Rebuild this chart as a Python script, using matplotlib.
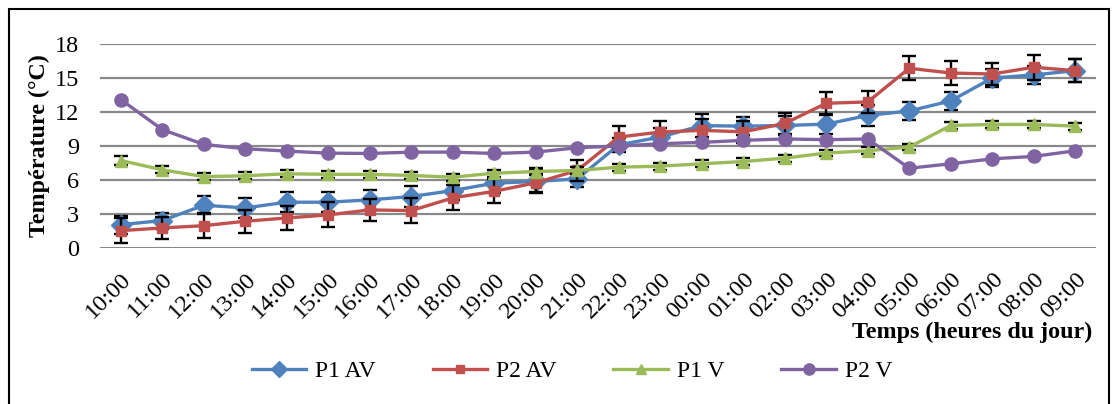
import matplotlib
matplotlib.use("Agg")
import matplotlib.pyplot as plt
from matplotlib.patches import Rectangle
import numpy as np

plt.rcParams['font.family'] = ['Liberation Serif', 'DejaVu Serif']

# hours of the day, 10:00 through 09:00 next morning
hours = ["10:00", "11:00", "12:00", "13:00", "14:00", "15:00", "16:00", "17:00",
         "18:00", "19:00", "20:00", "21:00", "22:00", "23:00", "00:00", "01:00",
         "02:00", "03:00", "04:00", "05:00", "06:00", "07:00", "08:00", "09:00"]

p1_av = [2.06, 2.42, 3.77, 3.54, 4.04, 4.04, 4.25, 4.54, 5.07, 5.72, 5.87, 6.1,
         9.1, 9.79, 10.8, 10.75, 10.81, 10.93, 11.7, 12.09, 12.98, 15.0, 15.27, 15.65]
p1_av_err = [0.8, 0.7, 0.8, 0.9, 0.9, 0.9, 0.9, 0.9, 0.8, 0.9, 1.0, 0.7,
             0.6, 0.8, 1.0, 0.8, 0.8, 0.9, 0.9, 0.8, 0.8, 0.8, 0.8, 1.0]

p2_av = [1.53, 1.77, 1.97, 2.36, 2.65, 2.92, 3.36, 3.3, 4.42, 5.0, 5.75, 6.84,
         9.79, 10.23, 10.38, 10.25, 10.99, 12.77, 12.89, 15.86, 15.44, 15.35, 15.95, 15.65]
p2_av_err = [1.1, 1.0, 1.1, 1.0, 1.06, 1.1, 1.0, 1.1, 1.1, 1.05, 0.8, 0.9,
             1.0, 1.0, 1.0, 1.0, 0.9, 1.0, 1.0, 1.07, 1.05, 1.0, 1.1, 1.0]

p1_v = [7.72, 6.9, 6.3, 6.37, 6.55, 6.5, 6.5, 6.4, 6.25, 6.6, 6.75, 6.84,
        7.13, 7.22, 7.43, 7.63, 7.93, 8.38, 8.58, 8.91, 10.81, 10.9, 10.9, 10.75]
p1_v_err = [0.4, 0.3, 0.3, 0.3, 0.3, 0.3, 0.3, 0.3, 0.3, 0.3, 0.3, 0.3,
            0.3, 0.3, 0.3, 0.3, 0.3, 0.3, 0.3, 0.3, 0.3, 0.3, 0.3, 0.3]

p2_v = [13.1, 10.45, 9.14, 8.76, 8.55, 8.37, 8.34, 8.46, 8.46, 8.34, 8.46, 8.85,
        9.0, 9.2, 9.32, 9.5, 9.62, 9.56, 9.62, 7.04, 7.43, 7.87, 8.08, 8.58]

x = np.arange(len(hours))

fig = plt.figure(figsize=(11.13, 4.04), dpi=100)
ax = fig.add_axes([100 / 1113, 156 / 404, 996 / 1113, 204 / 404])

grid_col = "#898989"
for v in range(0, 19, 3):
    ax.axhline(v, color=grid_col, lw=2.2 if v == 0 else 1.6, zorder=1)

series = [
    ("P1 AV", p1_av, p1_av_err, "#4F81BD", "D", 10),
    ("P2 AV", p2_av, p2_av_err, "#C0504D", "s", 7.5),
    ("P1 V", p1_v, p1_v_err, "#9BBB59", "^", 9),
    ("P2 V", p2_v, None, "#8064A2", "o", 9.5),
]

handles = []
for i, (name, vals, err, col, mk, ms) in enumerate(series):
    z = 3 + i
    if err is not None:
        ax.errorbar(x, vals, yerr=err, fmt="none", ecolor="black",
                    elinewidth=1.7, capsize=5, capthick=1.7, zorder=z)
    ln, = ax.plot(x, vals, color=col, lw=2.4, marker=mk, markersize=ms,
                  markeredgecolor=col, label=name, zorder=z + 0.5)
    handles.append(ln)

ax.set_xlim(-0.5, len(hours) - 0.5)
ax.set_ylim(0, 18)
ax.set_yticks(range(0, 19, 3))
ax.set_xticks(x)
ax.set_xticklabels(hours, rotation=45, ha="right", rotation_mode="anchor")
ax.tick_params(axis="both", length=0, labelsize=17.5)
ax.tick_params(axis="y", pad=15)
ax.tick_params(axis="x", pad=15)
for s in ax.spines.values():
    s.set_visible(False)

ax.set_ylabel("Température (°C)", fontsize=17.3, fontweight="bold")
ax.yaxis.set_label_coords(-0.05, 0.5)
fig.text(1092 / 1113, 1 - 332 / 404, "Temps (heures du jour)", fontsize=17.3,
         fontweight="bold", ha="right", va="center")

fig.legend(handles=handles, loc="center", bbox_to_anchor=(572 / 1113, 1 - 371 / 404),
           ncol=4, frameon=False, fontsize=17, handlelength=2.3,
           columnspacing=2.4, handletextpad=0.4, markerscale=0.85)

fig.patches.append(Rectangle((9 / 1113, -0.05), 1100 / 1113, 1.05 - 9.5 / 404,
                             transform=fig.transFigure, fill=False,
                             edgecolor="black", lw=1.5))

plt.savefig("out.png", dpi=100)
plt.close(fig)
